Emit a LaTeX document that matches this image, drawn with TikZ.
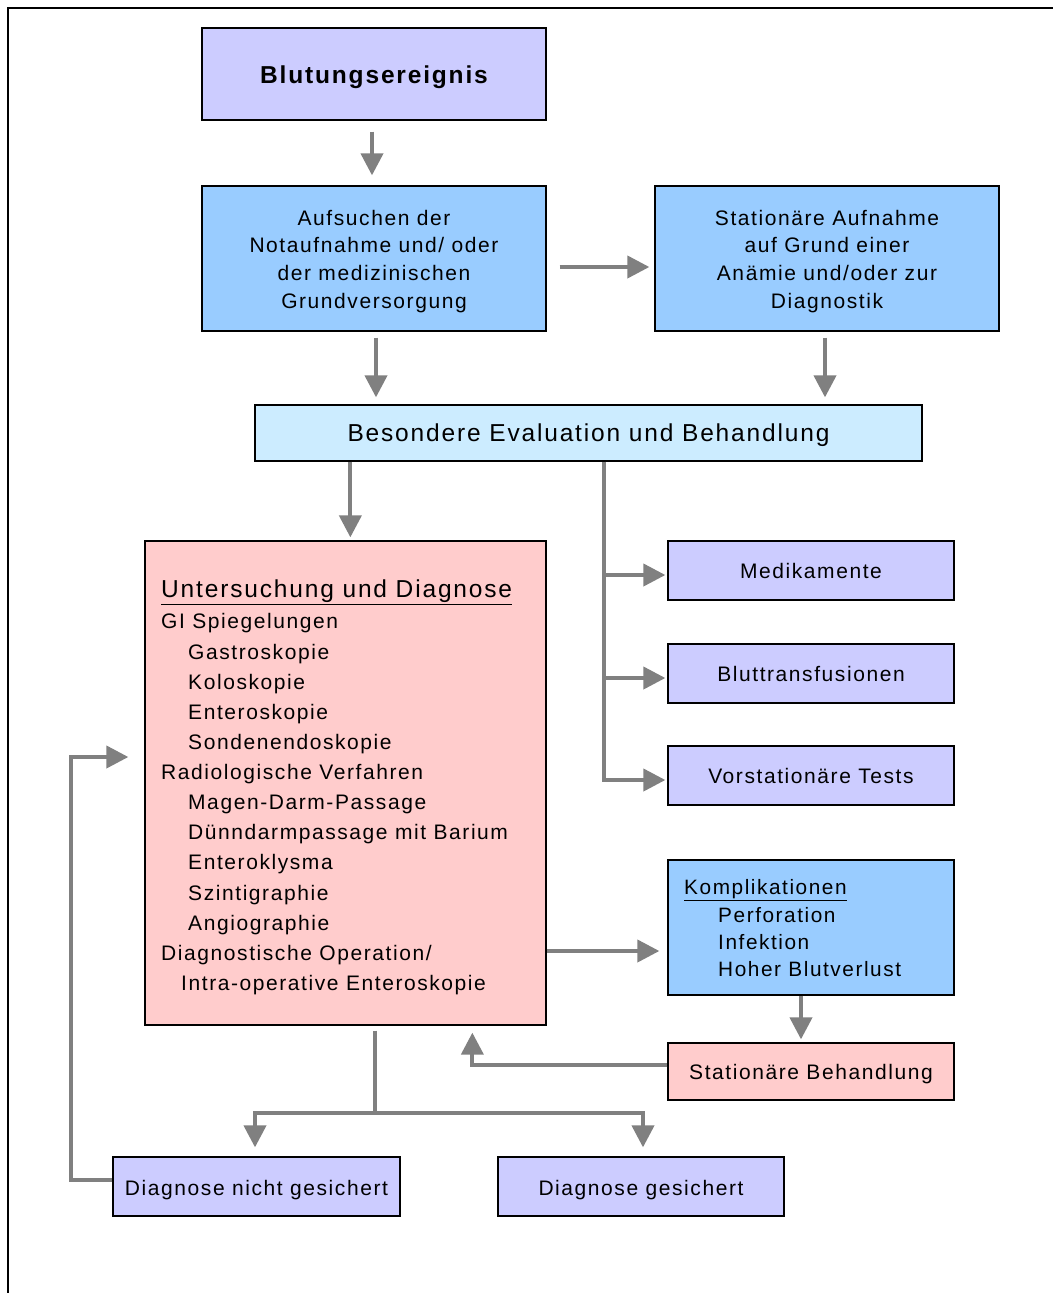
\documentclass[tikz,border=0pt]{standalone}
\usepackage{fontspec}
\setmainfont{Liberation Sans}[LetterSpace=7.5]
\usetikzlibrary{arrows.meta,calc}
\definecolor{lav}{HTML}{CCCCFF}
\definecolor{sky}{HTML}{99CCFF}
\definecolor{pale}{HTML}{CCECFF}
\definecolor{rose}{HTML}{FFCCCC}
\definecolor{arrgray}{HTML}{808080}
\tikzset{
  box/.style={draw=black, line width=1.3pt, inner sep=0pt},
  conn/.style={draw=arrgray, line width=4pt, line join=miter},
  arrow/.style={conn, -{Triangle[length=22pt,width=22pt]}},
  txt/.style={inner sep=0pt, font=\fontsize{21}{25}\selectfont},
  ktxt/.style={inner sep=0pt, font=\fontsize{20.8}{25}\selectfont},
  bigtxt/.style={inner sep=0pt, font=\fontsize{24.5}{29}\selectfont},
  ctxt/.style={txt, anchor=base},
}
\begin{document}
\begin{tikzpicture}[x=1pt,y=-1pt]
\useasboundingbox (0,0) rectangle (1053,1293);
\fill[white] (0,0) rectangle (1053,1293);
\draw[line width=2pt] (8,1293) -- (8,8) -- (1053,8);

% boxes
\node[box, fill=lav, minimum width=344pt, minimum height=92pt] (b1) at (374,74) {};
\node[box, fill=sky, minimum width=344pt, minimum height=145pt] (b2) at (374,258.5) {};
\node[box, fill=sky, minimum width=344pt, minimum height=145pt] (b3) at (827,258.5) {};
\node[box, fill=pale, minimum width=667pt, minimum height=56pt] (b4) at (588.5,433) {};
\node[box, fill=rose, minimum width=401pt, minimum height=484pt] (b5) at (345.5,783) {};
\node[box, fill=lav, minimum width=286pt, minimum height=59pt] (b6) at (811,570.5) {};
\node[box, fill=lav, minimum width=286pt, minimum height=59pt] (b7) at (811,673.5) {};
\node[box, fill=lav, minimum width=286pt, minimum height=59pt] (b8) at (811,775.5) {};
\node[box, fill=sky, minimum width=286pt, minimum height=135pt] (b9) at (811,927.5) {};
\node[box, fill=rose, minimum width=286pt, minimum height=57pt] (b10) at (811,1071.5) {};
\node[box, fill=lav, minimum width=287pt, minimum height=59pt] (b11) at (256.5,1186.5) {};
\node[box, fill=lav, minimum width=286pt, minimum height=59pt] (b12) at (641,1186.5) {};

% box texts
\node[bigtxt, anchor=base, font=\fontsize{24.5}{29}\selectfont\bfseries] (b1t) at (374,83.3) {Blutungsereignis};
\node[ctxt] (b2t1) at (374,225.2) {Aufsuchen der};
\node[ctxt] (b2t2) at (374,252.8) {Notaufnahme und/ oder};
\node[ctxt] (b2t3) at (374,280.4) {der medizinischen};
\node[ctxt] (b2t4) at (374,308) {Grundversorgung};
\node[ctxt] (b3t1) at (827,225.2) {Stationäre Aufnahme};
\node[ctxt] (b3t2) at (827,252.8) {auf Grund einer};
\node[ctxt] (b3t3) at (827,280.4) {Anämie und/oder zur};
\node[ctxt] (b3t4) at (827,308) {Diagnostik};
\node[bigtxt, anchor=base] (b4t) at (588.5,441.8) {Besondere Evaluation und Behandlung};
\node[ctxt] (b6t) at (811,578) {Medikamente};
\node[ctxt] (b7t) at (811,681) {Bluttransfusionen};
\node[ctxt] (b8t) at (811,783) {Vorstationäre Tests};
\node[ctxt] (b10t) at (811,1079.5) {Stationäre Behandlung};
\node[ctxt] (b11t) at (256.5,1195) {Diagnose nicht gesichert};
\node[ctxt] (b12t) at (641,1195) {Diagnose gesichert};

% Untersuchung text
\node[bigtxt, anchor=base west] (u0) at (161,597.5) {\underline{Untersuchung und Diagnose}};
\node[txt, anchor=base west] (u1) at (161,628.5) {GI Spiegelungen};
\node[txt, anchor=base west] (u2) at (188,659.5) {Gastroskopie};
\node[txt, anchor=base west] (u3) at (188,689.5) {Koloskopie};
\node[txt, anchor=base west] (u4) at (188,719.5) {Enteroskopie};
\node[txt, anchor=base west] (u5) at (188,749.5) {Sondenendoskopie};
\node[txt, anchor=base west] (u6) at (161,779.5) {Radiologische Verfahren};
\node[txt, anchor=base west] (u7) at (188,809.5) {Magen-Darm-Passage};
\node[txt, anchor=base west] (u8) at (188,839.5) {Dünndarmpassage mit Barium};
\node[txt, anchor=base west] (u9) at (188,869.5) {Enteroklysma};
\node[txt, anchor=base west] (u10) at (188,900.5) {Szintigraphie};
\node[txt, anchor=base west] (u11) at (188,930.5) {Angiographie};
\node[txt, anchor=base west] (u12) at (161,960.5) {Diagnostische Operation/};
\node[txt, anchor=base west] (u13) at (181,990.5) {Intra-operative Enteroskopie};

% Komplikationen text
\node[ktxt, anchor=base west] (k0) at (684,894.5) {\underline{Komplikationen}};
\node[ktxt, anchor=base west] (k1) at (718,922.5) {Perforation};
\node[ktxt, anchor=base west] (k2) at (718,949.5) {Infektion};
\node[ktxt, anchor=base west] (k3) at (718,976.5) {Hoher Blutverlust};

% helper coordinates
\coordinate (a1s) at ($(b1.south)+(-2,11)$);
\coordinate (a2s) at ($(b2.east)+(13,8.5)$);
\coordinate (a3s) at ($(b2.south)+(2,6)$);
\coordinate (a4s) at ($(b3.south)+(-2,6)$);
\coordinate (a5s) at ($(b4.south west)+(96,0)$);
\coordinate (br) at ($(b4.south west)+(350,0)$);
\coordinate (t6) at ($(b6.west)+(0,4.5)$);
\coordinate (t7) at ($(b7.west)+(0,4.5)$);
\coordinate (t8) at ($(b8.west)+(0,4.5)$);
\coordinate (t9) at ($(b9.west)+(0,23.5)$);
\coordinate (a9s) at ($(b9.south)+(-10,0)$);
\coordinate (a10s) at ($(b10.west)+(0,-6.5)$);
\coordinate (a10e) at ($(b5.south west)+(328,7)$);
\coordinate (js) at ($(b5.south west)+(231,5)$);
\coordinate (jn) at ($(b5.south west)+(231,87)$);
\coordinate (a11s) at ($(b11.west)+(0,-6.5)$);
\coordinate (t5) at ($(b5.west)+(0,-26)$);

% connectors
\draw[arrow, shorten >=10pt] (a1s) -- (a1s |- b2.north);
\draw[arrow, shorten >=5pt] (a2s) -- (a2s -| b3.west);
\draw[arrow, shorten >=7pt] (a3s) -- (a3s |- b4.north);
\draw[arrow, shorten >=7pt] (a4s) -- (a4s |- b4.north);
\draw[arrow, shorten >=3pt] (a5s) -- (a5s |- b5.north);

\draw[arrow, shorten >=2pt] (br) |- (t8);
\draw[arrow, shorten >=2pt] (br |- t6) -- (t6);
\draw[arrow, shorten >=2pt] (br |- t7) -- (t7);

\draw[arrow, shorten >=8pt] (b5.east |- t9) -- (t9);
\draw[arrow, shorten >=3pt] (a9s) -- (a9s |- b10.north);
\draw[arrow] (a10s) -| (a10e);

\draw[conn] (js) -- (jn);
\draw[arrow, shorten >=9pt] (jn) -| ($(b11.north)+(-1.5,0)$);
\draw[arrow, shorten >=9pt] (jn) -| ($(b12.north)+(2,0)$);

\draw[arrow, shorten >=16pt] (a11s) -- ++(-41,0) |- (t5);
\end{tikzpicture}
\end{document}
